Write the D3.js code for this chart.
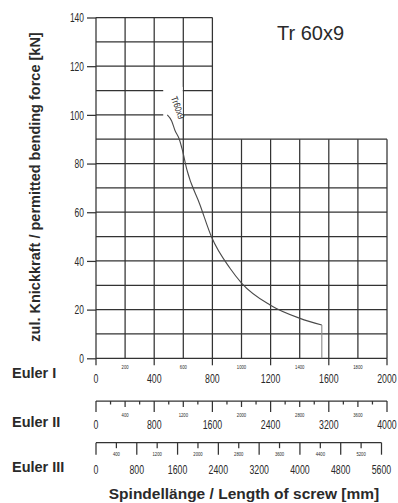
<!DOCTYPE html>
<html>
<head>
<meta charset="utf-8">
<script src="https://cdn.jsdelivr.net/npm/d3@7"></script>
<style>
  html, body { margin: 0; padding: 0; background: #fff; }
  svg { display: block; }
  text { fill: #2a2a2a; }
</style>
</head>
<body>
<svg id="chart" width="398" height="503"></svg>
<script>
// Permissible buckling force of a Tr 60x9 trapezoidal spindle vs. spindle length
const forceTicks = [0, 20, 40, 60, 80, 100, 120, 140];
const eulerIMajor = [0, 400, 800, 1200, 1600, 2000];
const eulerIMinor = [200, 600, 1000, 1400, 1800];
const eulerIIMajor = [0, 800, 1600, 2400, 3200, 4000];
const eulerIIMinor = [400, 1200, 2000, 2800, 3600];
const eulerIIIMajor = [0, 800, 1600, 2400, 3200, 4000, 4800, 5600];
const eulerIIIMinor = [400, 1200, 2000, 2800, 3600, 4400, 5200];

// curve in Euler I lengths (mm) and force (kN)
const curveLength = [490, 520, 543, 573, 593, 624, 715, 795, 921, 1002, 1196, 1402, 1552];
const curveForce  = [100, 97.5, 93.6, 89.9, 85.7, 77.6, 63.0, 49.7, 37.0, 30.8, 21.9, 16.4, 13.7];
// length limit: vertical drop to zero
const limitLength = [1552, 1552];
const limitForce = [13.7, 0];

const svg = d3.select("#chart");
const sans = "'Liberation Sans', Arial, sans-serif";
const squeeze = 0.65; // horizontal compression for the narrow numeric labels

const x1 = d3.scaleLinear().domain([0, 2000]).range([96, 387]);
const x2 = d3.scaleLinear().domain([0, 4000]).range([96, 387]);
const x3 = d3.scaleLinear().domain([0, 5600]).range([96, 381.5]);
const y = d3.scaleLinear().domain([0, 140]).range([358.3, 17.5]);

const gridColor = "#333";

// grid: upper band (above 90 kN) only reaches 800 mm
const hLines = d3.range(0, 141, 10);
const vLines = d3.range(0, 2001, 200);
const grid = svg.append("g").attr("stroke", gridColor).attr("stroke-width", 1.25);
grid.selectAll("line.h").data(hLines).join("line")
  .attr("x1", x1(0)).attr("x2", d => x1(d <= 90 ? 2000 : 800))
  .attr("y1", d => y(d)).attr("y2", d => y(d));
grid.selectAll("line.v").data(vLines).join("line")
  .attr("x1", d => x1(d)).attr("x2", d => x1(d))
  .attr("y1", y(0)).attr("y2", d => y(d <= 800 ? 140 : 90));

// y axis
const yAxis = svg.append("g").attr("transform", `translate(${x1(0)},0)`)
  .call(d3.axisLeft(y).tickValues(forceTicks).tickSize(9).tickPadding(3));
yAxis.select(".domain").remove();
yAxis.selectAll("line").attr("stroke", gridColor).attr("stroke-width", 1.25);
yAxis.selectAll("text")
  .attr("font-family", sans).attr("font-size", 13).attr("fill", "#2a2a2a")
  .attr("x", -12 / squeeze).attr("transform", `scale(${squeeze},1)`);

// curve label with white backing
svg.append("rect")
  .attr("x", x1(462)).attr("width", x1(596) - x1(462))
  .attr("y", y(111.5)).attr("height", y(98.9) - y(111.5))
  .attr("fill", "#fff");
svg.append("text")
  .attr("transform", `translate(${x1(563)},${y(103)}) rotate(70) scale(0.8,1)`)
  .attr("text-anchor", "middle").attr("dominant-baseline", "central")
  .attr("font-family", sans).attr("font-size", 9.5)
  .text("Tr60x9");

// curve
const line = d3.line().x(d => x1(d[0])).y(d => y(d[1]));
svg.append("path").datum(curveLength.map((l, i) => [l, curveForce[i]]))
  .attr("d", line.curve(d3.curveMonotoneX)).attr("fill", "none")
  .attr("stroke", "#4a4a4a").attr("stroke-width", 1.1);
svg.append("path").datum(limitLength.map((l, i) => [l, limitForce[i]]))
  .attr("d", d3.line().x(d => x1(d[0])).y(d => y(d[1]))).attr("fill", "none")
  .attr("stroke", "#8a8a8a").attr("stroke-width", 1.1);

// title
svg.append("text").attr("x", 277).attr("y", 40)
  .attr("font-family", sans).attr("font-size", 20)
  .attr("fill", "#222").text("Tr 60x9");

// length scale helper
function lengthScale(scale, yLine, majors, minors, opts) {
  const g = svg.append("g");
  if (opts.baseline) {
    g.append("line").attr("x1", scale.range()[0]).attr("x2", scale(scale.domain()[1]))
      .attr("y1", yLine).attr("y2", yLine).attr("stroke", gridColor).attr("stroke-width", 1.25);
  }
  const all = opts.step ? d3.range(0, scale.domain()[1] + 1, opts.step) : majors;
  g.selectAll("line.t").data(all).join("line")
    .attr("x1", d => scale(d)).attr("x2", d => scale(d))
    .attr("y1", yLine)
    .attr("y2", d => yLine + opts.tickLen(d))
    .attr("stroke", gridColor).attr("stroke-width", 1.25);
  g.selectAll("text.mi").data(minors).join("text")
    .attr("transform", d => `translate(${scale(d)},${yLine + opts.minorDy}) scale(0.7,1)`)
    .attr("text-anchor", "middle").attr("dominant-baseline", "central")
    .attr("font-family", sans).attr("font-size", 6).attr("fill", "#555")
    .text(d => d);
  g.selectAll("text.ma").data(majors).join("text")
    .attr("transform", d => `translate(${scale(d)},${yLine + opts.majorDy}) scale(${squeeze},1)`)
    .attr("text-anchor", "middle").attr("dominant-baseline", "central")
    .attr("font-family", sans).attr("font-size", 13.5)
    .text(d => d);
}

// Euler I (bottom of the grid)
lengthScale(x1, y(0), eulerIMajor, eulerIMinor, {
  baseline: false, tickLen: () => 7, minorDy: 8, majorDy: 20
});
// Euler II
lengthScale(x2, 401, eulerIIMajor, eulerIIMinor, {
  baseline: true, step: 200,
  tickLen: d => d % 800 === 0 ? 11 : (d % 400 === 0 ? 6 : 3.5),
  minorDy: 14, majorDy: 23
});
// Euler III
lengthScale(x3, 442.7, eulerIIIMajor, eulerIIIMinor, {
  baseline: true, step: 400,
  tickLen: d => d % 800 === 0 ? 12 : 5.5,
  minorDy: 10.5, majorDy: 27
});

// case labels
const cases = [["Euler I", 373], ["Euler II", 422], ["Euler III", 467]];
svg.selectAll("text.case").data(cases).join("text")
  .attr("x", 12).attr("y", d => d[1]).attr("dominant-baseline", "central")
  .attr("font-family", sans).attr("font-weight", "bold").attr("font-size", 14.5)
  .attr("fill", "#222").text(d => d[0]);

// axis titles
svg.append("text").attr("x", 244).attr("y", 493)
  .attr("text-anchor", "middle").attr("dominant-baseline", "central")
  .attr("font-family", sans).attr("font-weight", "bold").attr("font-size", 15.5)
  .attr("fill", "#222").text("Spindellänge / Length of screw [mm]");
svg.append("text").attr("transform", "translate(35,187) rotate(-90)")
  .attr("text-anchor", "middle").attr("dominant-baseline", "central")
  .attr("font-family", sans).attr("font-weight", "bold").attr("font-size", 14.5)
  .attr("fill", "#222").text("zul. Knickkraft / permitted bending force [kN]");
</script>
</body>
</html>
